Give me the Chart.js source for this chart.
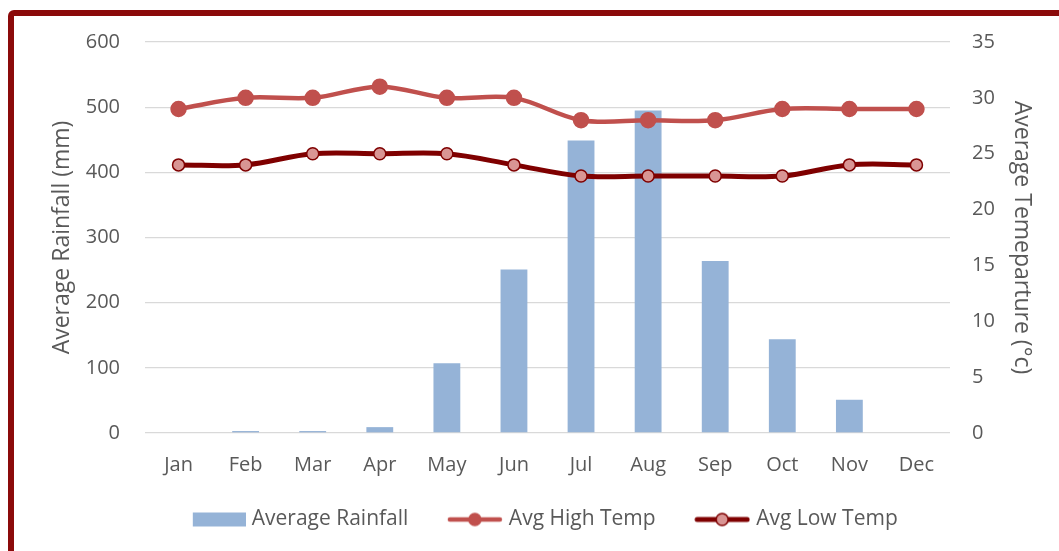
<!DOCTYPE html>
<html>
<head>
<meta charset="utf-8">
<script src="https://cdn.jsdelivr.net/npm/chart.js@4"></script>
<style>
  html, body { margin: 0; padding: 0; background: #fff; overflow: hidden; }
  #wrap { position: relative; width: 1059px; height: 551px; }
  #frame {
    position: absolute; left: 8px; top: 10px; width: 1100px; height: 600px;
    border: 6px solid #8B0A0A; border-radius: 6px; box-sizing: border-box;
    pointer-events: none;
  }
</style>
</head>
<body>
<div id="wrap">
  <canvas id="chart" width="1059" height="551"></canvas>
  <div id="frame"></div>
</div>
<script>
// chart data
const months = ["Jan", "Feb", "Mar", "Apr", "May", "Jun", "Jul", "Aug", "Sep", "Oct", "Nov", "Dec"];
const rainfall = [0, 3, 3, 9, 107, 251, 449, 495, 264, 144, 51, 0];
const highTemp = [29, 30, 30, 31, 30, 30, 28, 28, 28, 29, 29, 29];
const lowTemp = [24, 24, 25, 25, 25, 24, 23, 23, 23, 23, 24, 24];

const textColor = "#595959";
const fontFamily = "'Open Sans', 'Liberation Sans', sans-serif";

// legend swatches: the box is wide, the mark sits at its right end
// so the empty left part gives the gap between legend items
const swatchBox = 80;
function swatchCanvas() {
  const c = document.createElement("canvas");
  c.width = swatchBox + 9; c.height = 16;
  return c;
}
function barSwatch() {
  const c = swatchCanvas();
  const ctx = c.getContext("2d");
  ctx.fillStyle = "#95B3D7";
  ctx.fillRect(c.width - 53, 1, 53, 14);
  return c;
}
function lineSwatch(lineCol, fill, border, lw) {
  const c = swatchCanvas();
  const ctx = c.getContext("2d");
  const x0 = c.width - 56;
  ctx.strokeStyle = lineCol;
  ctx.lineWidth = lw;
  ctx.lineCap = "round";
  ctx.beginPath();
  ctx.moveTo(x0 + 3, 8); ctx.lineTo(x0 + 53, 8);
  ctx.stroke();
  ctx.beginPath();
  ctx.arc(x0 + 28, 8, 6, 0, Math.PI * 2);
  ctx.fillStyle = fill;
  ctx.fill();
  ctx.lineWidth = 1.5;
  ctx.strokeStyle = border;
  ctx.stroke();
  return c;
}

const legendHeight = {
  id: "legendHeight",
  beforeInit(chart) {
    const fit = chart.legend.fit;
    chart.legend.fit = function () {
      fit.call(this);
      this.height = 52;
    };
  },
};

const ctx = document.getElementById("chart");
new Chart(ctx, {
  data: {
    labels: months,
    datasets: [
      {
        type: "line",
        label: "Avg High Temp",
        data: highTemp,
        yAxisID: "yTemp",
        borderColor: "#C0504D",
        borderWidth: 4.5,
        backgroundColor: "#C0504D",
        pointRadius: 6,
        pointBorderColor: "#C0504D",
        pointBackgroundColor: "#C0504D",
        tension: 0.35,
        order: 1,
      },
      {
        type: "line",
        label: "Avg Low Temp",
        data: lowTemp,
        yAxisID: "yTemp",
        borderColor: "#7F0000",
        borderWidth: 5,
        backgroundColor: "#D99594",
        pointRadius: 6,
        pointBorderWidth: 1.5,
        pointBorderColor: "#7F0000",
        pointBackgroundColor: "#D99594",
        tension: 0.35,
        order: 0,
      },
      {
        type: "bar",
        label: "Average Rainfall",
        data: rainfall,
        yAxisID: "yRain",
        backgroundColor: "#95B3D7",
        categoryPercentage: 0.8,
        barPercentage: 0.5,
        order: 2,
      },
    ],
  },
  plugins: [legendHeight],
  options: {
    responsive: false,
    animation: false,
    layout: { padding: { top: 42, left: 0, right: 0, bottom: 0 } },
    plugins: {
      tooltip: { enabled: false },
      legend: {
        position: "bottom",
        labels: {
          color: textColor,
          font: { family: fontFamily, size: 21 },
          usePointStyle: true,
          pointStyleWidth: swatchBox,
          padding: 10,
          sort: (a, b) => {
            const ord = ["Average Rainfall", "Avg High Temp", "Avg Low Temp"];
            return ord.indexOf(a.text) - ord.indexOf(b.text);
          },
          generateLabels: (chart) => {
            const items = Chart.defaults.plugins.legend.labels.generateLabels(chart);
            items.forEach((it) => {
              if (it.text === "Average Rainfall") it.pointStyle = barSwatch();
              else if (it.text === "Avg High Temp") it.pointStyle = lineSwatch("#C0504D", "#C0504D", "#C0504D", 4.5);
              else it.pointStyle = lineSwatch("#7F0000", "#D99594", "#7F0000", 5);
            });
            return items;
          },
        },
      },
    },
    scales: {
      x: {
        grid: { display: false, drawTicks: false },
        border: { display: false },
        ticks: { color: textColor, font: { family: fontFamily, size: 20 }, padding: 20 },
        afterFit: (s) => { s.height = 66; },
      },
      yRain: {
        position: "left",
        min: 0,
        max: 600,
        ticks: { stepSize: 100, color: textColor, font: { family: fontFamily, size: 20 }, padding: 25 },
        grid: { color: "#D9D9D9", lineWidth: 1.3, drawTicks: false },
        border: { display: false },
        title: {
          display: true,
          text: "Average Rainfall (mm)",
          color: textColor,
          font: { family: fontFamily, size: 23 },
          padding: { top: 49 },
        },
        afterFit: (s) => { s.width = 145; },
      },
      yTemp: {
        position: "right",
        min: 0,
        max: 35,
        ticks: { stepSize: 5, color: textColor, font: { family: fontFamily, size: 20 }, padding: 22 },
        grid: { display: false, drawTicks: false },
        border: { display: false },
        title: {
          display: true,
          text: "Average Temeparture (°c)",
          color: textColor,
          font: { family: fontFamily, size: 23 },
          padding: { top: 24 },
        },
        afterFit: (s) => { s.width = 109; },
      },
    },
  },
});
</script>
</body>
</html>
